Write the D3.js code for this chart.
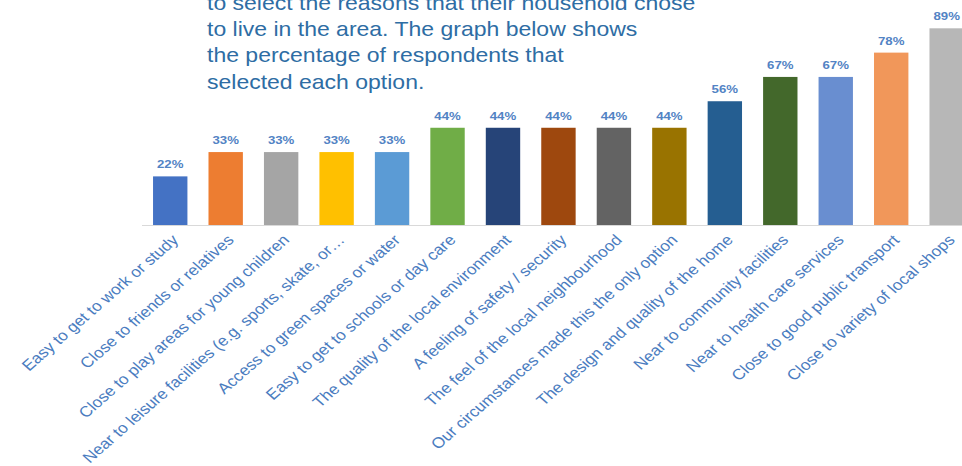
<!DOCTYPE html>
<html>
<head>
<meta charset="utf-8">
<script src="https://cdn.jsdelivr.net/npm/d3@7"></script>
<style>
  html, body { margin: 0; padding: 0; background: #fff; }
  svg { display: block; font-family: "Liberation Sans", Arial, sans-serif; }
</style>
</head>
<body>
<svg id="chart" width="962" height="466"></svg>
<script>
const titleLines = [
  "to select the reasons that their household chose",
  "to live in the area. The graph below shows",
  "the percentage of respondents that",
  "selected each option."
];
const categories = [
  "Easy to get to work or study",
  "Close to friends or relatives",
  "Close to play areas for young children",
  "Near to leisure facilities (e.g. sports, skate, or…",
  "Access to green spaces or water",
  "Easy to get to schools or day care",
  "The quality of the local environment",
  "A feeling of safety / security",
  "The feel of the local neighbourhood",
  "Our circumstances made this the only option",
  "The design and quality of the home",
  "Near to community facilities",
  "Near to health care services",
  "Close to good public transport",
  "Close to variety of local shops"
];
const values = [22, 33, 33, 33, 33, 44, 44, 44, 44, 44, 56, 67, 67, 78, 89];
const valueLabels = ["22%","33%","33%","33%","33%","44%","44%","44%","44%","44%","56%","67%","67%","78%","89%"];
const colors = ["#4472C4","#ED7D31","#A5A5A5","#FFC000","#5B9BD5","#70AD47","#264478","#9E480E",
                "#636363","#997300","#255E91","#43682B","#698ED0","#F1975A","#B7B7B7"];

const svg = d3.select("#chart");
const SX = 1.15; // horizontal stretch of the reference picture

const x = d3.scaleBand().domain(categories).range([142.5, 974.4])
  .paddingInner(0.38).paddingOuter(0.19);
const y = d3.scaleLinear().domain([0, 100]).range([225, 4]);

// title
const tg = svg.append("g").attr("transform", `translate(207,0) scale(${SX},1)`);
tg.selectAll("text").data(titleLines).enter().append("text")
  .attr("x", 0).attr("y", (d, i) => 9.5 + i * 26.5)
  .attr("font-size", 20).attr("fill", "#2e6da4").text(d => d);

// bars
svg.append("g").selectAll("rect").data(values).enter().append("rect")
  .attr("x", (d, i) => x(categories[i]))
  .attr("width", x.bandwidth())
  .attr("y", d => y(d))
  .attr("height", d => y(0) - y(d))
  .attr("fill", (d, i) => colors[i]);

// axis line
svg.append("line").attr("x1", 142).attr("x2", 974).attr("y1", y(0) + 0.5).attr("y2", y(0) + 0.5)
  .attr("stroke", "#d9d9d9").attr("stroke-width", 1.2);

// value labels
svg.append("g").selectAll("text").data(values).enter().append("text")
  .attr("transform", (d, i) => `translate(${x(categories[i]) + x.bandwidth() / 2},${y(d) - 8}) scale(${SX},1)`)
  .attr("text-anchor", "middle").attr("font-size", 11.5).attr("font-weight", "bold")
  .attr("fill", "#5283c4").text((d, i) => valueLabels[i]);

// category labels
const xAxis = d3.axisBottom(x).tickSize(0).tickPadding(0);
const ax = svg.append("g").attr("transform", `translate(0,${y(0)})`).call(xAxis);
ax.select(".domain").remove();
ax.selectAll(".tick text")
  .attr("transform", `translate(0,8) scale(${SX},1) rotate(-45)`)
  .attr("text-anchor", "end")
  .attr("x", 0).attr("y", 0).attr("dy", "0.75em")
  .attr("font-size", 15)
  .attr("font-family", "'Liberation Sans', Arial, sans-serif")
  .attr("fill", "#4a7cc0");
</script>
</body>
</html>
